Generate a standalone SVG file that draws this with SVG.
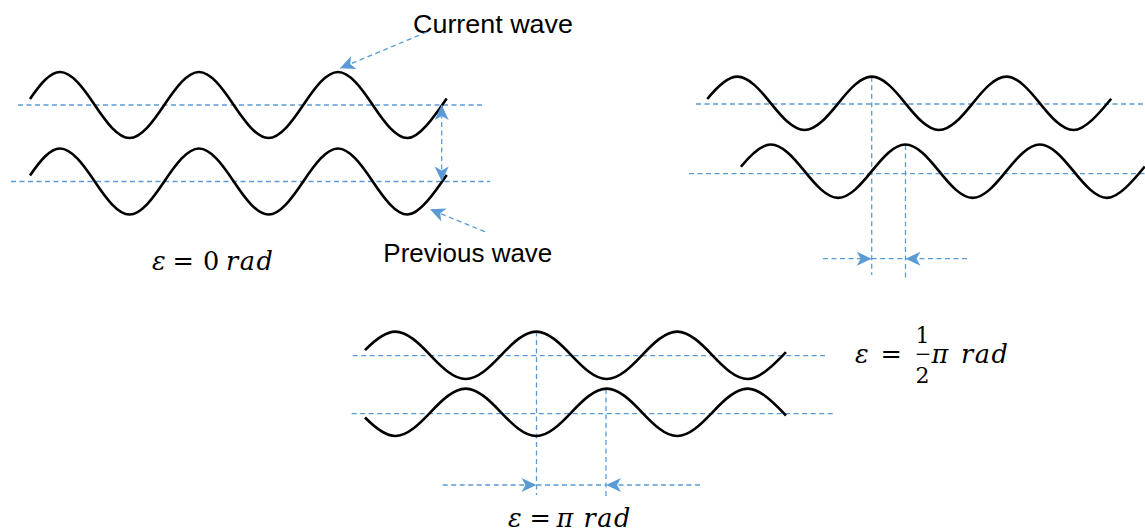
<svg xmlns="http://www.w3.org/2000/svg" xmlns:xlink="http://www.w3.org/1999/xlink" width="1145" height="532" viewBox="0 0 1145 532">
<style>
.wave{fill:none;stroke:#000;stroke-width:2.6;stroke-linecap:butt;stroke-linejoin:round}
.guide{fill:none;stroke:#5B9BD5;stroke-width:1.3;stroke-dasharray:5 3.5}
.conn{fill:none;stroke:#5B9BD5;stroke-width:1.3;stroke-dasharray:5 3.5}
.lbl{font-family:"Liberation Sans",Arial,sans-serif;font-size:25.5px;fill:#000}
.math{font-family:"DejaVu Serif","Liberation Serif",serif;font-size:25.5px;fill:#000}
.frac{font-family:"DejaVu Serif","Liberation Serif",serif;font-size:22px;fill:#000}
.it{font-style:italic}
</style>
<defs>
<marker id="ah" viewBox="-16 -8 17 16" refX="0" refY="0" markerWidth="17" markerHeight="16" markerUnits="userSpaceOnUse" orient="auto-start-reverse">
<path d="M0,0 L-15,-7 L-11,0 L-15,7 Z" fill="#5B9BD5" stroke="none"/>
</marker>
<path id="w1" d="M30,99 C40,84.4 50,72 60,72 c11.7,0 23.4,16.08 34.75,33 c11.35,16.92 23.05,33 34.75,33 c11.7,0 23.4,-16.08 34.75,-33 c11.35,-16.92 23.05,-33 34.75,-33 c11.7,0 23.4,16.08 34.75,33 c11.35,16.92 23.05,33 34.75,33 c11.7,0 23.4,-16.08 34.75,-33 c11.35,-16.92 23.05,-33 34.75,-33 c11.7,0 23.4,16.08 34.75,33 c11.35,16.92 23.05,33 34.75,33 C419.2,138 433.6,117.5 446.7,98.4"/>
<path id="w2" d="M707.3,99 C717.3,86.7 727.3,76.65 737.3,76.65 c11.32,0 22.65,13.01 33.625,26.7 c10.98,13.69 22.3,26.7 33.625,26.7 c11.32,0 22.65,-13.01 33.625,-26.7 c10.98,-13.69 22.3,-26.7 33.625,-26.7 c11.32,0 22.65,13.01 33.625,26.7 c10.98,13.69 22.3,26.7 33.625,26.7 c11.32,0 22.65,-13.01 33.625,-26.7 c10.98,-13.69 22.3,-26.7 33.625,-26.7 c11.32,0 22.65,13.01 33.625,26.7 c10.98,13.69 22.3,26.7 33.625,26.7 C1084.87,130.05 1098.65,114 1111.2,98.7"/>
<path id="w3" d="M365,350.1 C375.27,339.73 385.2,331.6 395.2,331.6 c11.87,0 23.74,11.55 35.25,23.7 c11.51,12.15 23.38,23.7 35.25,23.7 c11.87,0 23.74,-11.55 35.25,-23.7 c11.51,-12.15 23.38,-23.7 35.25,-23.7 c11.87,0 23.74,11.55 35.25,23.7 c11.51,12.15 23.38,23.7 35.25,23.7 c11.87,0 23.74,-11.55 35.25,-23.7 c11.51,-12.15 23.38,-23.7 35.25,-23.7 c11.87,0 23.74,11.55 35.25,23.7 c11.51,12.15 23.38,23.7 35.25,23.7 C759.57,379 773.23,365.47 786,352.1"/>
</defs>
<rect width="1145" height="532" fill="#fff"/>

<g id="guides">
<line class="guide" x1="18" y1="105" x2="483" y2="105"/>
<line class="guide" x1="11" y1="181.5" x2="490" y2="181.5"/>
<line class="guide" x1="696" y1="104" x2="1145" y2="104"/>
<line class="guide" x1="689" y1="173.7" x2="1145" y2="173.7"/>
<line class="guide" x1="871.7" y1="76.7" x2="871.7" y2="275"/>
<line class="guide" x1="905.5" y1="145" x2="905.5" y2="280"/>
<line class="guide" x1="352.7" y1="355.7" x2="825" y2="355.7"/>
<line class="guide" x1="351.7" y1="413.7" x2="833" y2="413.7"/>
<line class="guide" x1="536.5" y1="331.6" x2="536.5" y2="495"/>
<line class="guide" x1="606" y1="389" x2="606" y2="497"/>
</g>

<g id="panel-zero">
<g id="p1-current"><use xlink:href="#w1" href="#w1" class="wave"/></g>
<g id="p1-previous"><use xlink:href="#w1" href="#w1" class="wave" transform="translate(0,76.5)"/></g>
<g id="p1-label"><text class="math" y="270"><tspan class="it" x="152">ε</tspan><tspan x="172.5">=</tspan><tspan x="203">0</tspan><tspan class="it" x="226" letter-spacing="1.5">rad</tspan></text></g>
</g>

<g id="panel-half-pi">
<g id="p2-current"><use xlink:href="#w2" href="#w2" class="wave"/></g>
<g id="p2-previous"><use xlink:href="#w2" href="#w2" class="wave" transform="translate(33.6,67.8)"/></g>
<g id="p2-label">
<text class="math" y="363"><tspan class="it" x="855">ε</tspan><tspan x="880.5">=</tspan></text>
<text class="frac" x="922.5" y="343.3" text-anchor="middle">1</text>
<line x1="916.7" y1="354.3" x2="929.3" y2="354.3" stroke="#000" stroke-width="1.3"/>
<text class="frac" x="922.5" y="383" text-anchor="middle">2</text>
<text class="math" y="363"><tspan class="it" x="931.5">π</tspan><tspan class="it" x="961" letter-spacing="1.5">rad</tspan></text>
</g>
</g>

<g id="panel-pi">
<g id="p3-label"><text class="math" y="527"><tspan class="it" x="508">ε</tspan><tspan x="529.5">=</tspan><tspan class="it" x="556.5">π</tspan><tspan class="it" x="583.5" letter-spacing="1.5">rad</tspan></text></g>
<g id="p3-current"><use xlink:href="#w3" href="#w3" class="wave"/></g>
<g id="p3-previous"><use xlink:href="#w3" href="#w3" class="wave" transform="translate(0,767.6) scale(1,-1)"/></g>
</g>

<g id="callouts">
<g id="lbl-current"><text class="lbl" x="413" y="33.3" textLength="160" lengthAdjust="spacingAndGlyphs">Current wave</text></g>
<g id="lbl-previous"><text class="lbl" x="383.3" y="261.7" textLength="169" lengthAdjust="spacingAndGlyphs">Previous wave</text></g>
</g>

<g id="connectors">
<line class="conn" x1="427" y1="32" x2="340" y2="68.3" marker-end="url(#ah)"/>
<line class="conn" x1="485" y1="231.7" x2="430" y2="209.3" marker-end="url(#ah)"/>
<line class="conn" x1="441.7" y1="105" x2="441.7" y2="181.5" marker-start="url(#ah)" marker-end="url(#ah)"/>
<line class="conn" x1="823" y1="258.7" x2="871.7" y2="258.7" marker-end="url(#ah)"/>
<line class="conn" x1="871.7" y1="258.7" x2="905.5" y2="258.7"/>
<line class="conn" x1="967" y1="258.7" x2="905.5" y2="258.7" marker-end="url(#ah)"/>
<line class="conn" x1="442.7" y1="485" x2="536.5" y2="485" marker-end="url(#ah)"/>
<line class="conn" x1="536.5" y1="485" x2="606" y2="485"/>
<line class="conn" x1="700" y1="485" x2="606" y2="485" marker-end="url(#ah)"/>
</g>
</svg>
